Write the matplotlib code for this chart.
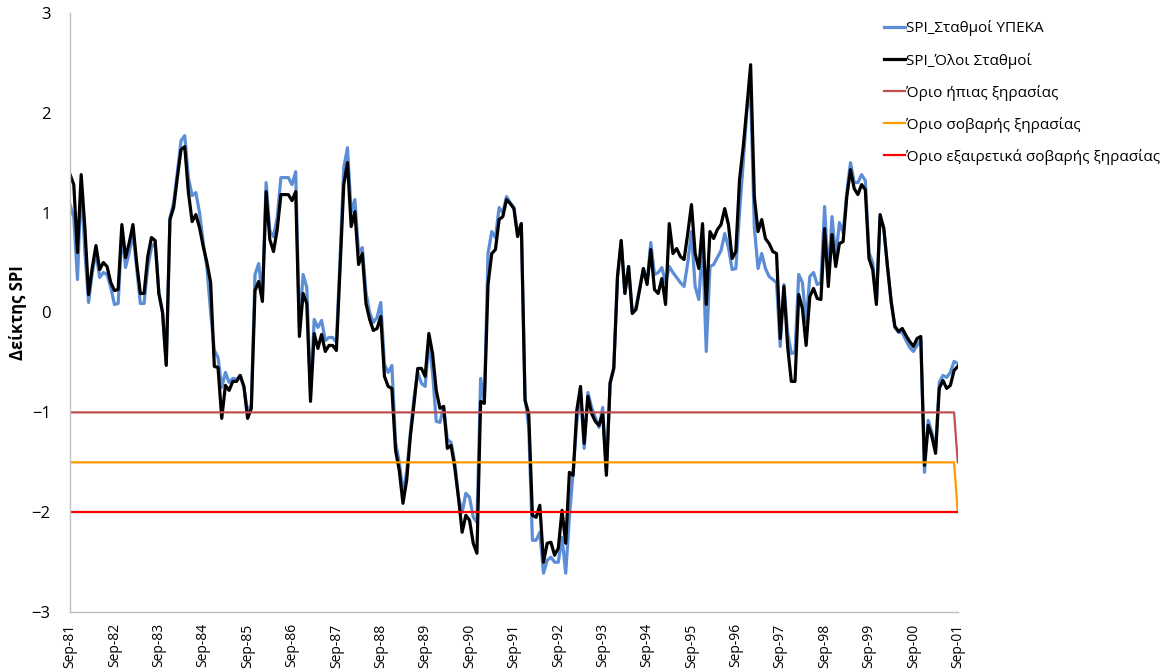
import numpy as np
import matplotlib
matplotlib.use('Agg')
import matplotlib.pyplot as plt

plt.rcParams['font.family'] = ['Open Sans', 'Noto Sans', 'DejaVu Sans']

# μηνιαίες τιμές SPI, Sep-81 έως Sep-01
spi_ypeka = [
    1.08, 0.95, 0.33, 1.3, 0.6, 0.1, 0.4, 0.6, 0.35, 0.4, 0.38, 0.25,
    0.08, 0.09, 0.8, 0.45, 0.6, 0.8, 0.45, 0.09, 0.09, 0.45, 0.65, 0.7,
    0.2, 0.0, -0.52, 0.95, 1.1, 1.4, 1.72, 1.77, 1.35, 1.17, 1.2, 1.0,
    0.7, 0.45, 0.0, -0.38, -0.45, -0.75, -0.6, -0.7, -0.66, -0.67, -0.63, -0.75,
    -1.0, -0.92, 0.38, 0.49, 0.15, 1.3, 0.82, 0.76, 0.95, 1.35, 1.35, 1.35,
    1.28, 1.41, -0.15, 0.38, 0.25, -0.8, -0.07, -0.15, -0.08, -0.28, -0.25, -0.25,
    -0.3, 0.55, 1.45, 1.65, 1.0, 1.13, 0.6, 0.65, 0.2, 0.0, -0.1, -0.05,
    0.1, -0.52, -0.6, -0.53, -1.3, -1.5, -1.8, -1.6, -1.2, -0.85, -0.6, -0.71,
    -0.74, -0.3, -0.6, -1.09, -1.1, -0.95, -1.27, -1.3, -1.5, -1.85, -2.0, -1.81,
    -1.85, -2.05, -2.1, -0.66, -0.9, 0.59, 0.81, 0.75, 1.05, 1.0, 1.16, 1.1,
    1.05, 0.78, 0.89, -0.85, -1.15, -2.28, -2.28, -2.2, -2.61, -2.48, -2.45, -2.5,
    -2.5, -2.25, -2.61, -2.05, -1.6, -1.1, -0.8, -1.36, -0.8, -0.95, -1.05, -1.15,
    -0.95, -1.6, -0.7, -0.55, 0.35, 0.72, 0.19, 0.46, 0.0, 0.05, 0.25, 0.44,
    0.3, 0.7, 0.38, 0.4, 0.45, 0.3, 0.46, 0.4, 0.35, 0.3, 0.26, 0.5,
    0.81, 0.26, 0.13, 0.7, -0.39, 0.46, 0.48, 0.55, 0.62, 0.79, 0.65, 0.43,
    0.44, 1.0, 1.5, 2.03, 2.2, 0.85, 0.44, 0.59, 0.44, 0.36, 0.33, 0.3,
    -0.34, 0.28, -0.2, -0.41, -0.4, 0.38, 0.3, -0.1, 0.36, 0.4, 0.28, 0.3,
    1.06, 0.35, 0.96, 0.55, 0.9, 0.8, 1.2, 1.5, 1.3, 1.3, 1.38, 1.32,
    0.6, 0.5, 0.1, 0.95, 0.85, 0.45, 0.1, -0.15, -0.2, -0.2, -0.28, -0.35,
    -0.39, -0.33, -0.27, -1.6, -1.08, -1.2, -1.38, -0.7, -0.63, -0.65, -0.6, -0.49,
    -0.51,
]

spi_oloi = [
    1.38, 1.28, 0.6, 1.38, 0.85, 0.18, 0.45, 0.67, 0.43, 0.5, 0.46, 0.3,
    0.22, 0.23, 0.88, 0.55, 0.7, 0.88, 0.5, 0.19, 0.19, 0.56, 0.75, 0.72,
    0.19, 0.0, -0.53, 0.93, 1.05, 1.35, 1.63, 1.66, 1.2, 0.91, 0.98, 0.85,
    0.66, 0.5, 0.3, -0.54, -0.55, -1.06, -0.73, -0.78, -0.69, -0.69, -0.63, -0.74,
    -1.06, -0.96, 0.22, 0.31, 0.11, 1.21, 0.73, 0.61, 0.83, 1.18, 1.18, 1.18,
    1.12, 1.21, -0.24, 0.19, 0.09, -0.89, -0.21, -0.36, -0.22, -0.39, -0.33, -0.33,
    -0.38, 0.46, 1.28, 1.5, 0.86, 1.01, 0.48, 0.59, 0.09, -0.07, -0.18, -0.16,
    -0.04, -0.64, -0.74, -0.76, -1.38, -1.58, -1.91, -1.68, -1.24, -0.91, -0.56, -0.56,
    -0.64, -0.21, -0.41, -0.78, -0.96, -0.94, -1.36, -1.33, -1.55, -1.85, -2.2, -2.03,
    -2.08, -2.31, -2.41, -0.89, -0.91, 0.28, 0.59, 0.63, 0.93, 0.96, 1.13, 1.09,
    1.04, 0.76, 0.89, -0.88, -1.01, -2.03, -2.05, -1.93, -2.5, -2.31, -2.3, -2.43,
    -2.36, -1.98, -2.31, -1.6, -1.63, -0.98, -0.74, -1.31, -0.84, -1.01, -1.09, -1.13,
    -1.01, -1.63, -0.71, -0.56, 0.36, 0.72, 0.19, 0.46, -0.01, 0.03, 0.23, 0.44,
    0.28, 0.63, 0.23, 0.19, 0.34, 0.08, 0.89, 0.59, 0.64, 0.56, 0.53, 0.79,
    1.08, 0.59, 0.44, 0.89, 0.08, 0.81, 0.74, 0.83, 0.88, 1.04, 0.88, 0.54,
    0.61, 1.33, 1.66, 2.06, 2.48, 1.16, 0.81, 0.93, 0.74, 0.69, 0.61, 0.59,
    -0.26, 0.26, -0.34, -0.69, -0.69, 0.18, 0.04, -0.33, 0.16, 0.24, 0.14, 0.13,
    0.84, 0.26, 0.78, 0.46, 0.69, 0.71, 1.16, 1.43, 1.24, 1.18, 1.28, 1.23,
    0.54, 0.43, 0.08, 0.98, 0.84, 0.46, 0.11, -0.14, -0.19, -0.16, -0.23, -0.29,
    -0.34, -0.26, -0.24, -1.53, -1.13, -1.24, -1.41, -0.76, -0.68, -0.76, -0.73, -0.58,
    -0.54,
]

# όρια ξηρασίας (η τελευταία τιμή κάθε ορίου στο αρχείο πέφτει)
n = len(spi_oloi)
orio_ipias = [-1.0] * (n - 1) + [-1.5]
orio_sobaris = [-1.5] * (n - 1) + [-2.0]
orio_exairetika = [-2.0] * n

tick_labels = ['Sep-%02d' % (y % 100) for y in range(1981, 2002)]

x = np.arange(n)

fig = plt.figure(figsize=(11.68, 6.72), dpi=100)
ax = fig.add_axes([0.06, 0.089, 0.76, 0.892])

ax.plot(x, spi_ypeka, color='#5B8ED6', lw=2.3, label='SPI_Σταθμοί ΥΠΕΚΑ')
ax.plot(x, spi_oloi, color='black', lw=2.3, label='SPI_Όλοι Σταθμοί')
ax.plot(x, orio_ipias, color='#C0504D', lw=1.6, label='Όριο ήπιας ξηρασίας')
ax.plot(x, orio_sobaris, color='#FF9900', lw=1.6, label='Όριο σοβαρής ξηρασίας')
ax.plot(x, orio_exairetika, color='#FF0000', lw=1.6, label='Όριο εξαιρετικά σοβαρής ξηρασίας')

ax.set_xlim(0, n - 1)
ax.set_ylim(-3, 3)
ax.set_yticks(range(-3, 4))
ax.set_xticks(range(0, n, 12))
ax.set_xticklabels(tick_labels, rotation=90, fontsize=10)
ax.tick_params(axis='both', length=0)
ax.tick_params(axis='y', labelsize=12, pad=14)
ax.tick_params(axis='x', pad=8)

for s in ['top', 'right']:
    ax.spines[s].set_visible(False)
for s in ['left', 'bottom']:
    ax.spines[s].set_color('#BFBFBF')
    ax.spines[s].set_linewidth(1.0)

ax.set_ylabel('Δείκτης SPI', fontsize=12, fontweight='bold')
ax.yaxis.set_label_coords(-0.048, 0.5)

fig.legend(loc='upper left', bbox_to_anchor=(0.745, 0.99), frameon=False,
           fontsize=11, handlelength=1.4, handletextpad=0.05, labelspacing=1.05)

fig.savefig('out.png', dpi=100)
